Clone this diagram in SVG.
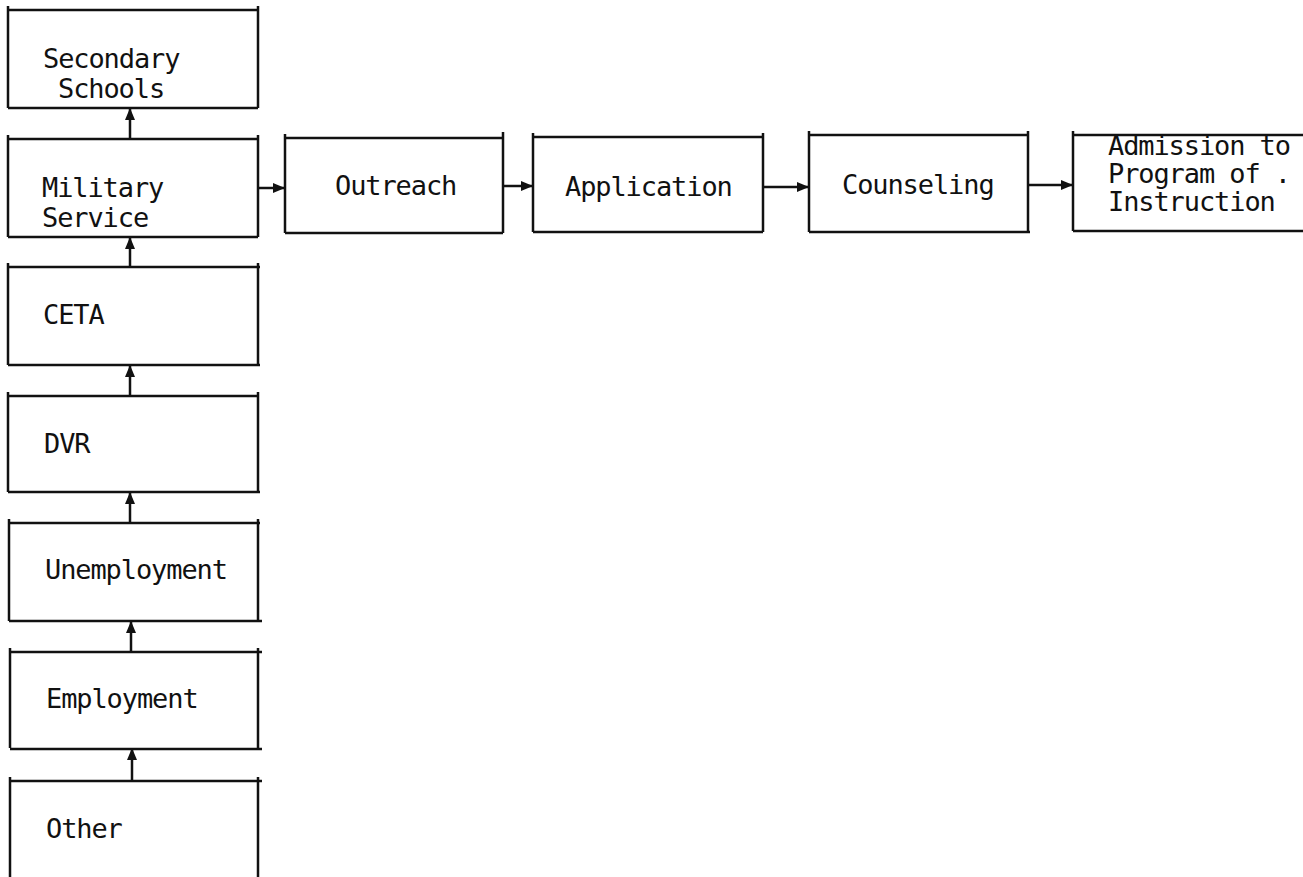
<svg xmlns="http://www.w3.org/2000/svg" width="1303" height="877" viewBox="0 0 1303 877">
<style>
.b{fill:none;stroke:#111;stroke-width:2.5}
.c{fill:none;stroke:#111;stroke-width:2.5}
.t{font-family:"DejaVu Sans Mono","Liberation Mono",monospace;font-size:27px;letter-spacing:-1.1px;fill:#111}
</style>
<defs>
<marker id="ah" viewBox="0 0 12 10" refX="12" refY="5" markerWidth="13" markerHeight="10" markerUnits="userSpaceOnUse" orient="auto">
<path d="M0,0 L12,5 L0,10 Z" fill="#111"/>
</marker>
</defs>
<rect width="1303" height="877" fill="#fff"/>
<g id="connectors">
<line class="c" x1="130" y1="139" x2="130" y2="108" marker-end="url(#ah)"/>
<line class="c" x1="130" y1="267" x2="130" y2="237" marker-end="url(#ah)"/>
<line class="c" x1="130" y1="396" x2="130" y2="365" marker-end="url(#ah)"/>
<line class="c" x1="130" y1="523" x2="130" y2="492" marker-end="url(#ah)"/>
<line class="c" x1="131" y1="652" x2="131" y2="621" marker-end="url(#ah)"/>
<line class="c" x1="132" y1="781" x2="132" y2="748" marker-end="url(#ah)"/>
<line class="c" x1="258" y1="188" x2="285" y2="188" marker-end="url(#ah)"/>
<line class="c" x1="503" y1="186" x2="533" y2="186" marker-end="url(#ah)"/>
<line class="c" x1="763" y1="187" x2="809" y2="187" marker-end="url(#ah)"/>
<line class="c" x1="1028" y1="185" x2="1073" y2="185" marker-end="url(#ah)"/>
</g>
<g id="n-secondary">
<path class="b" d="M8,6 V108 M258,6 V108 M8,10 H258 M8,108 H258"/>
<text class="t" x="43" y="68">Secondary</text>
<text class="t" x="58" y="98">Schools</text>
</g>
<g id="n-military">
<path class="b" d="M8,135 V237 M258,135 V237 M8,139 H258 M8,237 H258"/>
<text class="t" x="42" y="197">Military</text>
<text class="t" x="42" y="227">Service</text>
</g>
<g id="n-ceta">
<path class="b" d="M8,263 V365 M258,263 V365 M8,267 H260 M8,365 H260"/>
<text class="t" x="43" y="324">CETA</text>
</g>
<g id="n-dvr">
<path class="b" d="M8,392 V492 M258,392 V492 M8,396 H258 M8,492 H260"/>
<text class="t" x="44" y="453">DVR</text>
</g>
<g id="n-unemployment">
<path class="b" d="M9,519 V621 M258,519 V621 M9,523 H260 M9,621 H262"/>
<text class="t" x="45" y="579">Unemployment</text>
</g>
<g id="n-employment">
<path class="b" d="M10,648 V748 M258,648 V748 M10,652 H262 M10,749 H262"/>
<text class="t" x="46" y="708">Employment</text>
</g>
<g id="n-other">
<path class="b" d="M10,777 V877 M258,777 V877 M10,781 H262"/>
<text class="t" x="46" y="838">Other</text>
</g>
<g id="n-outreach">
<path class="b" d="M285,134 V233 M503,132 V233 M285,138 H503 M285,233 H503"/>
<text class="t" x="335" y="195">Outreach</text>
</g>
<g id="n-application">
<path class="b" d="M533,133 V232 M763,133 V232 M533,137 H763 M533,232 H763"/>
<text class="t" x="565" y="196">Application</text>
</g>
<g id="n-counseling">
<path class="b" d="M809,131 V232 M1028,131 V232 M809,135 H1028 M809,232 H1030"/>
<text class="t" x="842" y="194">Counseling</text>
</g>
<g id="n-admission">
<path class="b" d="M1073,131 V231 M1073,135 H1303 M1073,231 H1303"/>
<text class="t" x="1108" y="155">Admission to</text>
<text class="t" x="1108" y="183">Program of .</text>
<text class="t" x="1108" y="211">Instruction</text>
</g>
</svg>
